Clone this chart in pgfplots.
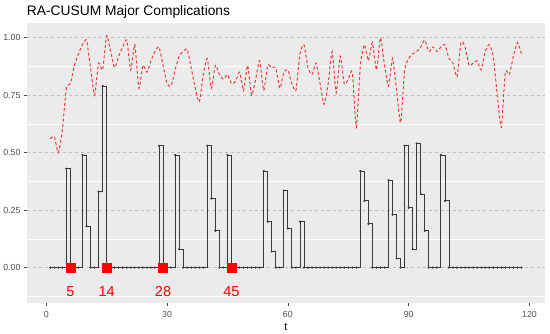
\documentclass[border=0pt]{standalone}
\usepackage{pgfplots}
\pgfplotsset{compat=1.18}
\usepackage{pgfplotstable}
\usepackage{fontspec}
\setmainfont{Liberation Sans}
\definecolor{panel}{HTML}{EBEBEB}
\definecolor{tickgray}{HTML}{4D4D4D}
\definecolor{gridgray}{HTML}{BDBDBD}
\definecolor{lred}{HTML}{F23C3C}

\pgfplotstableread{
t s r
1 0 0.56
2 0 0.57
3 0 0.50
4 0 0.60
5 0.43 0.78
6 0 0.80
7 0 0.88
8 0 0.93
9 0.49 0.97
10 0.18 0.99
11 0 0.87
12 0 0.75
13 0.33 0.89
14 0.79 0.86
15 0 1.01
16 0 0.94
17 0 0.87
18 0 0.92
19 0 0.96
20 0 0.99
21 0 0.86
22 0 0.97
23 0 0.78
24 0 0.88
25 0 0.85
26 0 0.90
27 0 0.94
28 0.53 0.96
29 0 0.88
30 0 0.80
31 0 0.79
32 0.49 0.86
33 0.08 0.92
34 0 0.94
35 0 0.95
36 0 0.87
37 0 0.78
38 0 0.72
39 0 0.84
40 0.53 0.91
41 0.30 0.78
42 0.16 0.88
43 0 0.84
44 0 0.82
45 0.49 0.84
46 0 0.80
47 0 0.81
48 0 0.85
49 0 0.77
50 0 0.88
51 0 0.75
52 0 0.82
53 0 0.90
54 0.42 0.77
55 0.20 0.88
56 0.07 0.87
57 0 0.87
58 0 0.78
59 0.335 0.85
60 0.17 0.86
61 0 0.80
62 0 0.77
63 0.20 0.93
64 0 0.97
65 0 0.87
66 0 0.84
67 0 0.89
68 0 0.80
69 0 0.71
70 0 0.80
71 0 0.94
72 0 0.76
73 0 0.92
74 0 0.80
75 0 0.82
76 0 0.85
77 0 0.61
78 0.42 0.88
79 0.29 0.97
80 0.19 0.90
81 0 0.98
82 0 0.86
83 0 1.00
84 0 0.88
85 0.38 0.79
86 0.23 0.91
87 0.04 0.77
88 0 0.63
89 0.53 0.86
90 0.26 0.91
91 0.08 0.93
92 0.54 0.94
93 0.32 0.96
94 0.16 0.99
95 0 0.94
96 0 0.96
97 0 0.94
98 0.49 0.96
99 0.29 0.97
100 0 0.91
101 0 0.89
102 0 0.83
103 0 0.98
104 0 0.96
105 0 0.88
106 0 0.89
107 0 0.90
108 0 0.86
109 0 0.94
110 0 0.97
111 0 0.92
112 0 0.75
113 0 0.61
114 0 0.85
115 0 0.84
116 0 0.92
117 0 0.98
118 0 0.93
}\cusum

\begin{document}
\begin{tikzpicture}[x=1pt,y=1pt]
\useasboundingbox (0,0) rectangle (550,334);
\node[anchor=base west, inner sep=0, font=\fontsize{13.8}{16}\selectfont] at (26.7,318.5) {RA-CUSUM Major Complications};
\begin{axis}[
  at={(26.7pt,30.7pt)}, anchor=south west,
  scale only axis, width=518.3pt, height=280.6pt,
  xmin=-4.85, xmax=123.85, ymin=-0.1555, ymax=1.0655,
  axis background/.style={fill=panel},
  axis line style={draw=none},
  xtick={0,30,60,90,120}, xticklabels={0,30,60,90,120},
  ytick={0,0.25,0.5,0.75,1}, yticklabels={0.00,0.25,0.50,0.75,1.00},
  minor ytick={-0.125,0.125,0.375,0.625,0.875},
  ymajorgrids, yminorgrids,
  major grid style={gridgray, dashed, line width=0.5pt},
  minor grid style={white, line width=0.5pt},
  tick align=outside, major tick length=2.75pt, minor tick length=0pt,
  tick style={black!70, line width=0.5pt},
  xtick pos=bottom, ytick pos=left,
  ticklabel style={font=\fontsize{8.8}{10}\selectfont, text=tickgray},
  xticklabel style={yshift=-1.5pt},
  xlabel={t},
  xlabel style={font=\fontsize{11}{13}\selectfont, at={(axis description cs:0.5,0)}, anchor=center, yshift=-23.4pt},
  clip=false,
]
\addplot[lred, line width=1pt, dash pattern=on 3pt off 2.3pt, smooth, tension=0.35] table[x=t,y=r] {\cusum};
\addplot[const plot, black!78, line width=0.85pt, mark=*, mark size=0.6pt, mark options={solid}] table[x=t,y=s] {\cusum};
\addplot[only marks, mark=square*, mark size=4.6pt, color=red] coordinates {(6,0) (15,0) (29,0) (46,0)};
\addplot[draw=none, mark=none, nodes near coords, point meta=explicit symbolic,
  nodes near coords style={font=\fontsize{14.5}{16}\selectfont, text=red, anchor=center}]
  coordinates {(6,-0.104)[5] (15,-0.104)[14] (29,-0.104)[28] (46,-0.104)[45]};
\end{axis}
\end{tikzpicture}
\end{document}
